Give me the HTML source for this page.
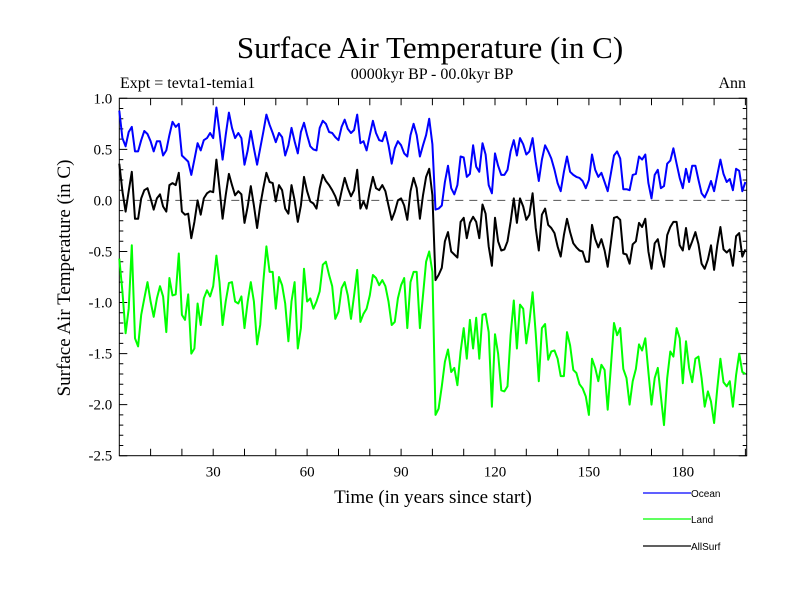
<!DOCTYPE html>
<html><head><meta charset="utf-8"><style>
html,body{margin:0;padding:0;background:#fff;}
svg{display:block;}
</style></head><body>
<svg id="chart" xmlns="http://www.w3.org/2000/svg" width="800" height="600" viewBox="0 0 800 600">
<rect width="800" height="600" fill="#fff"/>
<text x="430" y="58" font-family="Liberation Serif, serif" font-size="31" text-anchor="middle">Surface Air Temperature (in C)</text>
<text x="432" y="79" font-family="Liberation Serif, serif" font-size="16" text-anchor="middle">0000kyr BP - 00.0kyr BP</text>
<text x="120" y="88" font-family="Liberation Serif, serif" font-size="16">Expt = tevta1-temia1</text>
<text x="746" y="88" font-family="Liberation Serif, serif" font-size="16" text-anchor="end">Ann</text>
<text transform="translate(70,278) rotate(-90)" font-family="Liberation Serif, serif" font-size="19" text-anchor="middle">Surface Air Temperature (in C)</text>
<text x="433" y="503" font-family="Liberation Serif, serif" font-size="19" text-anchor="middle">Time (in years since start)</text>
<g id="axes"></g>
<g id="series"></g>
<g font-family="Liberation Sans, sans-serif" font-size="10">
<g><line x1="643" y1="493" x2="691" y2="493" stroke="#0000ff" stroke-width="1.2"/><text x="691" y="497">Ocean</text></g>
<g><line x1="643" y1="519" x2="691" y2="519" stroke="#00ff00" stroke-width="1.2"/><text x="691" y="523">Land</text></g>
<g><line x1="643" y1="546" x2="691" y2="546" stroke="#000" stroke-width="1.2"/><text x="691" y="550">AllSurf</text></g>
</g>
</svg>
<script>
const ocean = [.88,.61,.53,.67,.72,.48,.48,.59,.68,.65,.58,.48,.58,.58,.44,.49,.64,.77,.72,.75,.44,.41,.38,.25,.40,.56,.49,.59,.61,.66,.61,.91,.67,.40,.64,.86,.71,.61,.66,.61,.35,.49,.68,.51,.35,.51,.67,.84,.74,.66,
.57,.66,.62,.44,.54,.71,.58,.46,.67,.76,.64,.53,.50,.49,.71,.78,.75,.67,.66,.62,.59,.72,.79,.70,.66,.69,.84,.56,.58,.49,.64,.78,.66,.59,.58,.67,.54,.36,.51,.58,.54,.46,.43,.64,.75,.64,.43,.54,.64,.80,
.55,-.09,-.08,-.05,.18,.34,.12,.06,.15,.43,.42,.23,.26,.54,.33,.28,.56,.45,.15,.07,.46,.34,.25,.25,.30,.48,.59,.44,.61,.55,.45,.48,.61,.38,.19,.40,.54,.48,.41,.30,.17,.09,.28,.43,.28,.25,.23,.22,.19,.12,
.20,.45,.30,.23,.27,.18,.09,.26,.44,.48,.41,.11,.11,.10,.25,.26,.43,.40,.45,.17,.02,.25,.30,.12,.14,.36,.39,.51,.36,.22,.12,.31,.18,.34,.34,.20,.07,.03,.10,.19,.09,.25,.40,.26,.18,.21,.10,.31,.29,.09,.18];
const land = [-.57,-.89,-1.30,-1.06,-.44,-1.35,-1.43,-1.12,-.96,-.80,-.99,-1.14,-.96,-.84,-.94,-1.29,-.76,-.93,-.92,-.52,-1.12,-1.17,-.92,-1.50,-1.45,-1.01,-1.22,-.96,-.88,-.94,-.84,-.54,-.80,-1.22,-.99,-.81,-.80,-.99,-1.01,-.94,-1.25,-.99,-.80,-.99,-1.41,-1.22,-.80,-.45,-.70,-.70,
-1.06,-.75,-.83,-1.01,-1.38,-.99,-.80,-1.45,-1.25,-.67,-.99,-.96,-1.06,-.99,-.89,-.63,-.60,-.73,-.84,-1.16,-1.09,-.86,-.80,-.93,-1.16,-.93,-.68,-1.19,-1.11,-1.06,-.93,-.73,-.76,-.83,-.78,-.84,-.99,-1.22,-1.19,-.96,-.83,-.76,-1.25,-.80,-.70,-.70,-1.25,-.93,-.60,-.50,
-.70,-2.10,-2.04,-1.82,-1.58,-1.46,-1.68,-1.64,-1.81,-1.48,-1.25,-1.55,-1.17,-1.45,-1.15,-1.55,-1.12,-1.11,-1.29,-2.02,-1.31,-1.50,-1.86,-1.87,-1.82,-1.32,-.98,-1.45,-1.02,-1.06,-1.40,-1.19,-.90,-1.30,-1.77,-1.25,-1.21,-1.56,-1.48,-1.47,-1.55,-1.72,-1.72,-1.29,-1.42,-1.66,-1.69,-1.80,-1.84,-1.92,
-2.10,-1.55,-1.64,-1.77,-1.61,-1.66,-2.05,-1.64,-1.20,-1.32,-1.25,-1.65,-1.74,-2.00,-1.77,-1.65,-1.41,-1.47,-1.35,-1.68,-2.00,-1.74,-1.64,-1.92,-2.20,-1.74,-1.48,-1.53,-1.25,-1.35,-1.79,-1.38,-1.64,-1.78,-1.55,-1.53,-1.74,-2.02,-1.87,-1.97,-2.18,-1.84,-1.55,-1.78,-1.82,-1.77,-2.02,-1.71,-1.50,-1.68,-1.70];
const allSurf = [.36,.09,-.11,.09,.28,-.18,-.18,.02,.10,.12,.02,-.09,.02,.06,-.06,-.11,.15,.17,.15,.27,-.11,-.14,-.13,-.37,-.21,0,-.14,.02,.07,.09,.08,.40,.12,-.18,.05,.26,.15,.05,.09,.06,-.22,-.06,.14,-.05,-.27,-.05,.12,.27,.18,.17,
-.01,.15,.10,-.08,-.13,.15,0,-.21,-.05,.23,.09,-.01,-.03,-.08,.12,.25,.19,.15,.10,.04,-.05,.09,.22,.12,.04,.10,.30,-.08,-.01,-.08,.09,.23,.12,.10,.15,.09,-.05,-.19,-.11,0,.02,-.05,-.19,.09,.22,.12,-.18,.05,.23,.31,
.05,-.78,-.73,-.66,-.40,-.31,-.50,-.53,-.56,-.21,-.17,-.37,-.22,-.16,-.21,-.37,-.04,-.13,-.45,-.64,-.17,-.40,-.49,-.48,-.40,-.21,.02,-.22,.02,-.06,-.19,-.14,.07,-.27,-.49,-.14,-.08,-.24,-.27,-.32,-.45,-.55,-.34,-.18,-.31,-.42,-.46,-.49,-.50,-.60,
-.60,-.24,-.38,-.46,-.38,-.49,-.65,-.42,-.17,-.16,-.19,-.52,-.53,-.62,-.43,-.40,-.22,-.26,-.18,-.50,-.67,-.42,-.38,-.53,-.65,-.34,-.26,-.21,-.21,-.44,-.49,-.27,-.48,-.40,-.31,-.43,-.62,-.67,-.58,-.44,-.68,-.44,-.26,-.48,-.51,-.48,-.64,-.35,-.32,-.55,-.48];
const xTickLabels = [30,60,90,120,150,180];
const yTickLabels = ["1.0","0.5","0.0","-0.5","-1.0","-1.5","-2.0","-2.5"];
const yTickValues = [1.0,0.5,0.0,-0.5,-1.0,-1.5,-2.0,-2.5];

const L=119.3,R=746.7,T=98.3,B=455.7, XMIN=0, XMAX=200.4, YMIN=-2.5, YMAX=1.0;
function xs(t){return L+(t-XMIN)/(XMAX-XMIN)*(R-L);}
function ys(v){return B-(v-YMIN)/(YMAX-YMIN)*(B-T);}
const NS='http://www.w3.org/2000/svg';
function mk(tag,attrs,parent){const e=document.createElementNS(NS,tag);for(const k in attrs)e.setAttribute(k,attrs[k]);parent.appendChild(e);return e;}
const axes=document.getElementById('axes');
const ser=document.getElementById('series');
const frame=mk('rect',{x:L,y:T,width:R-L,height:B-T,fill:'none',stroke:'#000','stroke-width':1},axes);


let tp='';
for(let t=10;t<XMAX;t+=10){const x=xs(t).toFixed(1);tp+=`M${x} ${B}v-7M${x} ${T}v7`;}
for(let i=0;i<=35;i++){const v=YMIN+i*0.1;const y=ys(v).toFixed(1);const len=(i%5===0)?8:4;tp+=`M${L} ${y}h${len}M${R} ${y}h-${len}`;}
const ticks=mk('path',{d:tp,stroke:'#000','stroke-width':1,fill:'none'},axes);


xTickLabels.forEach(v=>{const t=mk('text',{x:xs(v),y:B+21,'font-family':'Liberation Serif, serif','font-size':15,'text-anchor':'middle'},axes);t.textContent=v;

});
yTickValues.forEach((v,i)=>{const t=mk('text',{x:L-7,y:ys(v)+5,'font-family':'Liberation Serif, serif','font-size':15,'text-anchor':'end'},axes);t.textContent=yTickLabels[i];

});
const zl=mk('line',{x1:L,x2:R,y1:ys(0),y2:ys(0),stroke:'#555','stroke-width':1,'stroke-dasharray':'8 6'},ser);


function line(arr,color,name){const d=arr.map((v,i)=>(i?'L':'M')+xs(i).toFixed(1)+' '+ys(v).toFixed(1)).join('');
const p=mk('path',{d:d,fill:'none',stroke:color,'stroke-width':2,'stroke-linejoin':'round'},ser);

}
line(ocean,'#0000ff','ocean-line');
line(land,'#00ff00','land-line');
line(allSurf,'#000000','allsurf-line');
</script>
</body></html>
